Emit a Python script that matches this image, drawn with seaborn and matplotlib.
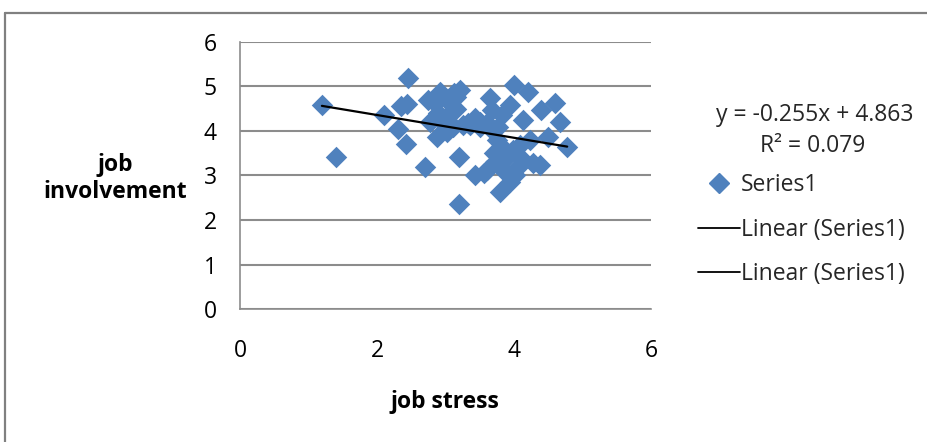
import numpy as np
import pandas as pd
import seaborn as sns
import matplotlib.pyplot as plt
from matplotlib.lines import Line2D

# values
job_stress = [
    1.19, 1.39, 2.09, 2.30, 2.35, 2.43, 2.45, 2.42, 2.69, 2.74,
    2.77, 2.84, 2.87, 2.89, 2.91, 2.94, 3.01, 3.01, 3.03, 3.06,
    3.10, 3.10, 3.12, 3.15, 3.15, 3.20, 3.19, 3.19, 3.25, 3.32,
    3.35, 3.42, 3.42, 3.50, 3.50, 3.60, 3.60, 3.64, 3.67, 3.67,
    3.72, 3.74, 3.76, 3.79, 3.79, 3.82, 3.83, 3.89, 3.93, 3.93,
    3.98, 3.99, 4.01, 4.08, 4.12, 4.13, 4.20, 4.23, 4.27, 4.37,
    4.39, 4.49, 4.59, 4.67, 4.77, 3.55, 3.70, 3.85, 4.05,
]
job_involvement = [
    4.57, 3.41, 4.35, 4.05, 4.55, 4.60, 5.18, 3.70, 3.20, 4.70,
    4.19, 4.62, 3.86, 4.40, 4.87, 4.19, 3.97, 4.24, 4.69, 4.62,
    4.46, 4.08, 4.85, 4.75, 4.50, 4.91, 3.41, 2.37, 4.12, 4.17,
    4.12, 4.28, 3.00, 4.08, 4.19, 3.12, 4.17, 4.73, 4.46, 4.01,
    3.30, 3.79, 4.08, 3.27, 2.63, 4.35, 3.12, 3.41, 2.85, 4.57,
    3.57, 5.02, 3.00, 3.68, 4.24, 3.34, 4.87, 3.79, 3.27, 3.23,
    4.46, 3.86, 4.62, 4.19, 3.63, 3.05, 3.50, 3.60, 3.20,
]
slope = -0.255
intercept = 4.863
r_squared = 0.079
x_ticks = [0, 2, 4, 6]
y_ticks = [0, 1, 2, 3, 4, 5, 6]

df = pd.DataFrame({"job stress": job_stress, "job involvement": job_involvement})

sns.set_theme(style="white")
plt.rcParams["font.family"] = ["Open Sans", "DejaVu Sans"]

blue = "#4F81BD"
grid_gray = "#8C8C8C"
fs = 16.5

fig = plt.figure(figsize=(9.28, 4.42), dpi=100, facecolor="white", edgecolor="white")
ax = fig.add_axes([0.259, 0.300, 0.443, 0.606])

# outer chart border: only its left and top edges fall inside the picture
border_x = 5 / 928
border_y = 1 - 13 / 442
fig.add_artist(Line2D([border_x, border_x], [0, border_y], transform=fig.transFigure,
                      color="#808080", linewidth=1.6))
fig.add_artist(Line2D([border_x, 1.01], [border_y, border_y], transform=fig.transFigure,
                      color="#808080", linewidth=1.6))

sns.scatterplot(data=df, x="job stress", y="job involvement", marker="D",
                s=120, color=blue, edgecolor=blue, linewidth=0, ax=ax,
                zorder=3, legend=False)

# linear trendline over the data range
x_line = np.array([min(job_stress), max(job_stress)])
ax.plot(x_line, slope * x_line + intercept, color="black", linewidth=1.6, zorder=4)

ax.set_xlim(0, 6)
ax.set_ylim(0, 6)
ax.set_xticks(x_ticks)
ax.set_yticks(y_ticks)
ax.yaxis.grid(True, color=grid_gray, linewidth=1.5)
ax.set_axisbelow(True)
for side in ["top", "right"]:
    ax.spines[side].set_visible(False)
for side in ["left", "bottom"]:
    ax.spines[side].set_color(grid_gray)
    ax.spines[side].set_linewidth(1.2)
ax.tick_params(axis="both", which="both", direction="out", length=6,
               color=grid_gray, width=1, labelsize=fs, labelcolor="black")
ax.tick_params(axis="x", pad=15)
ax.tick_params(axis="y", pad=11)

ax.set_xlabel("job stress", fontsize=fs, fontweight="bold", color="black", va="center")
ax.set_ylabel("job\ninvolvement", fontsize=fs, fontweight="bold", color="black",
              rotation=0, ha="center", va="center", linespacing=1.15)
ax.yaxis.set_label_coords(-0.305, 0.49)
ax.xaxis.set_label_coords(0.497, -0.345)

fig.text(815 / 928, 1 - 115 / 442, f"y = {slope}x + {intercept}", fontsize=fs,
         ha="center", va="center")
fig.text(813 / 928, 1 - 146 / 442, f"R² = {r_squared}", fontsize=fs,
         ha="center", va="center")

handles = [
    Line2D([], [], marker="D", linestyle="none", color=blue, markersize=10),
    Line2D([], [], color="black", linewidth=1.3),
    Line2D([], [], color="black", linewidth=1.3),
]
labels = ["Series1", "Linear (Series1)", "Linear (Series1)"]
fig.legend(handles, labels, loc="upper left", bbox_to_anchor=(698 / 928, 1 - 173 / 442),
           frameon=False, fontsize=fs, handlelength=1.83, handletextpad=0.06,
           labelspacing=0.9, borderpad=0, borderaxespad=0)

fig.savefig("out.png", dpi=100)
plt.close(fig)
